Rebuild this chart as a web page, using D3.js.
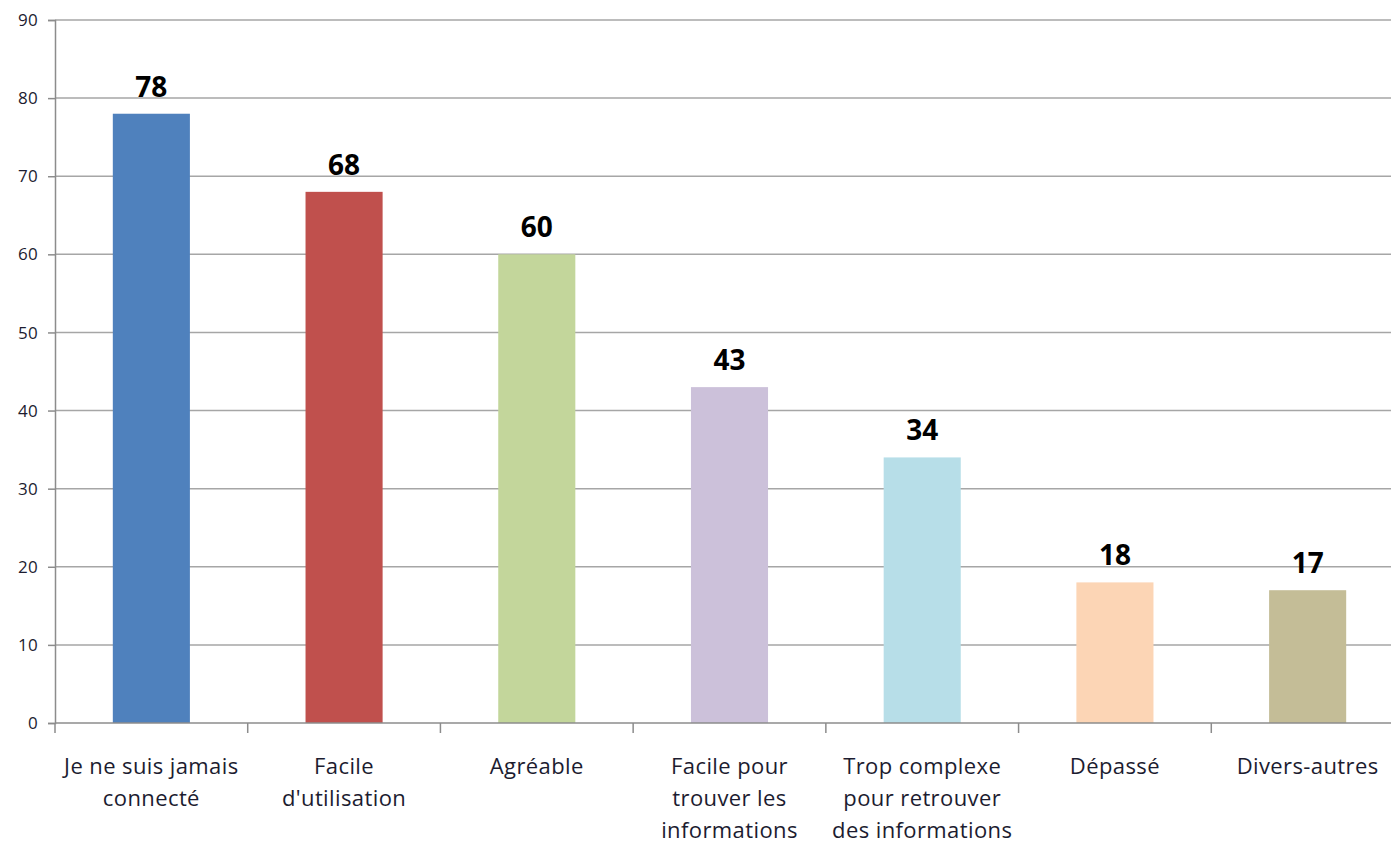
<!DOCTYPE html>
<html><head><meta charset="utf-8">
<script src="https://cdnjs.cloudflare.com/ajax/libs/d3/7.8.5/d3.min.js"></script>
<style>body{margin:0;background:#fff;}svg{display:block;}</style>
</head><body>
<svg id="chart" width="1391" height="844"></svg>
<script>
const categories = [
  ["Je ne suis jamais", "connecté"],
  ["Facile", "d'utilisation"],
  ["Agréable"],
  ["Facile pour", "trouver les", "informations"],
  ["Trop complexe", "pour retrouver", "des informations"],
  ["Dépassé"],
  ["Divers-autres"]
];
const values = [78, 68, 60, 43, 34, 18, 17];
const colors = ["#4F81BD", "#C0504D", "#C3D69B", "#CCC1DA", "#B7DEE8", "#FCD5B5", "#C4BD97"];
const yTicks = [0, 10, 20, 30, 40, 50, 60, 70, 80, 90];

const svg = d3.select("#chart");
const mLeft = 55, mRight = 1404, mTop = 20, mBottom = 723;
const idx = d3.range(values.length);
const x = d3.scaleBand().domain(idx).range([mLeft, mRight]).paddingInner(0.6).paddingOuter(0.3);
const xb = d3.scaleBand().domain(idx).range([mLeft, mRight]);
const y = d3.scaleLinear().domain([0, 90]).range([mBottom, mTop]);

// gridlines
svg.append("g").selectAll("line").data(yTicks.filter(d => d > 0)).join("line")
  .attr("x1", mLeft).attr("x2", 1391).attr("y1", d => y(d)).attr("y2", d => y(d))
  .attr("stroke", "#A6A6A6").attr("stroke-width", 1.5);

// y axis (line + ticks via d3 axis, labels drawn separately)
const yAxis = svg.append("g").attr("transform", `translate(${mLeft},0)`)
  .call(d3.axisLeft(y).tickValues(yTicks).tickSize(7).tickFormat(""));
yAxis.select(".domain").attr("stroke", "#8C8C8C").attr("stroke-width", 1.5);
yAxis.selectAll(".tick line").attr("stroke", "#8C8C8C").attr("stroke-width", 1.5);
svg.append("g").selectAll("text").data(yTicks).join("text")
  .attr("x", 38).attr("y", d => y(d)).attr("dy", "0.36em")
  .attr("text-anchor", "end")
  .style("font-family", "'Open Sans', sans-serif").style("font-size", "17px")
  .style("letter-spacing", "0.3px")
  .attr("fill", "#1c1c30")
  .text(d => d);

// bars
svg.append("g").selectAll("rect").data(idx).join("rect")
  .attr("x", i => x(i)).attr("width", x.bandwidth())
  .attr("y", i => y(values[i])).attr("height", i => y(0) - y(values[i]))
  .attr("fill", i => colors[i]);

// x axis
svg.append("line").attr("x1", mLeft).attr("x2", 1391).attr("y1", mBottom).attr("y2", mBottom)
  .attr("stroke", "#8C8C8C").attr("stroke-width", 1.5);
svg.append("g").selectAll("line").data(idx).join("line")
  .attr("x1", i => xb(i)).attr("x2", i => xb(i)).attr("y1", mBottom).attr("y2", mBottom + 10)
  .attr("stroke", "#8C8C8C").attr("stroke-width", 1.5);

// category labels
const cat = svg.append("g").selectAll("text").data(idx).join("text")
  .attr("x", i => xb(i) + xb.bandwidth() / 2)
  .attr("y", 774)
  .attr("text-anchor", "middle")
  .attr("font-family", "'Open Sans', sans-serif").attr("font-size", 22)
  .attr("letter-spacing", 0.4).attr("fill", "#1c1c30");
cat.each(function(i) {
  d3.select(this).selectAll("tspan").data(categories[i]).join("tspan")
    .attr("x", xb(i) + xb.bandwidth() / 2)
    .attr("dy", (d, k) => k === 0 ? 0 : 32)
    .text(d => d);
});

// value labels
svg.append("g").selectAll("text").data(idx).join("text")
  .attr("x", i => x(i) + x.bandwidth() / 2)
  .attr("y", i => y(values[i]) - 17)
  .attr("text-anchor", "middle")
  .attr("font-family", "'Open Sans', sans-serif").attr("font-weight", "bold").attr("font-size", 28)
  .attr("fill", "#000")
  .text(i => values[i]);
</script>
</body></html>
